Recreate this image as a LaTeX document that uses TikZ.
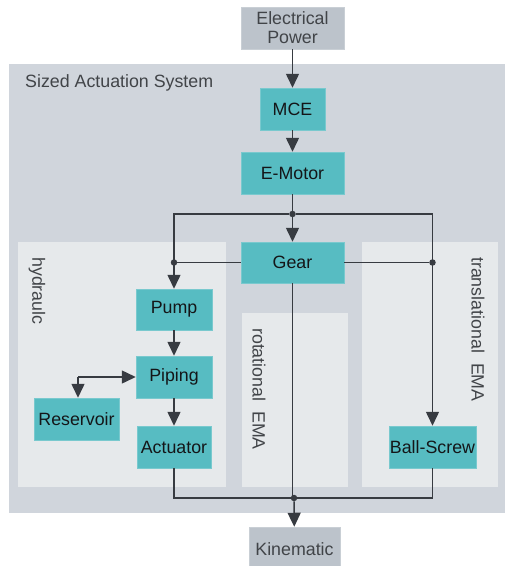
\documentclass[tikz,border=0pt]{standalone}
\usepackage{fontspec}
\setmainfont{Liberation Sans}
\usetikzlibrary{arrows.meta}
\definecolor{teal1}{RGB}{87,188,194}
\definecolor{biggray}{RGB}{208,213,220}
\definecolor{panel}{RGB}{230,233,235}
\definecolor{iobox}{RGB}{188,195,203}
\definecolor{linec}{RGB}{55,59,65}
\definecolor{txt}{RGB}{20,22,24}
\definecolor{lbl}{RGB}{65,68,72}
\begin{document}
\begin{tikzpicture}[x=1pt,y=-1pt,
  every node/.style={font=\fontsize{17.8}{20}\selectfont},
  blk/.style={fill=teal1,draw=teal1!80!white,line width=0.5pt,text=txt,inner sep=0pt},
  io/.style={fill=iobox,draw=iobox!80!white,line width=0.5pt,text=lbl,inner sep=0pt,align=center},
  conn/.style={draw=linec,line width=1.5pt},
  arr/.style={conn,-{Triangle[length=14pt,width=13pt]}},
  dot/.style={circle,fill=linec,inner sep=0pt,minimum size=6.5pt},
  grouplbl/.style={text=lbl,rotate=-90,anchor=west,inner sep=0pt}]
\useasboundingbox (0,0) rectangle (505,566);
\clip (0,0) rectangle (505,566);
% backgrounds
\fill[biggray] (9,64) rectangle (505,513);
\fill[panel] (18,242) rectangle (226,487);
\fill[panel] (242,313) rectangle (348,487);
\fill[panel] (362,242) rectangle (498,487);
\node[text=lbl,anchor=west,inner sep=0pt] (sas) at (25,83) {Sized Actuation System};
\node[grouplbl] (lh) at (37,257) {hydraulc};
\node[grouplbl] (lr) at (259,328) {rotational\ \ EMA};
\node[grouplbl] (lt) at (478,257) {translational\ \ EMA};
% nodes
\node[io,minimum width=103pt,minimum height=42pt] (ep) at (292.5,28) {Electrical\\[-1pt]Power};
\node[blk,minimum width=65pt,minimum height=42pt] (mce) at (292.5,109) {MCE};
\node[blk,minimum width=103pt,minimum height=42pt] (em) at (292.5,173) {E-Motor};
\node[blk,minimum width=103pt,minimum height=41pt] (gear) at (292.5,262.5) {Gear};
\node[blk,minimum width=76pt,minimum height=41pt] (pump) at (174,309.5) {Pump};
\node[blk,minimum width=76pt,minimum height=42pt] (pip) at (174,377) {Piping};
\node[blk,minimum width=85pt,minimum height=42pt] (res) at (76.5,419) {Reservoir};
\node[blk,minimum width=74pt,minimum height=42pt] (act) at (174,447) {Actuator};
\node[blk,minimum width=87pt,minimum height=42pt] (bs) at (432.5,447) {Ball-Screw};
\node[io,minimum width=91pt,minimum height=44pt] (kin) at (294.5,549) {Kinematic};
% junctions
\node[dot] (jt) at (292.5,214) {};
\node[dot] (jl) at (174,262.5) {};
\node[dot] (jr) at (432.5,262.5) {};
\node[dot] (jb) at (294,498) {};
\coordinate (rc) at (78,377);
% connectors
\draw[arr] (ep) -- (mce);
\draw[arr] (mce) -- (em);
\draw[conn] (em) -- (jt);
\draw[arr] (jt) -- (gear);
\draw[arr] (jt) -| (pump);
\draw[arr] (jt) -| (bs);
\draw[conn] (gear) -- (jl);
\draw[conn] (gear) -- (jr);
\draw[arr] (pump) -- (pip);
\draw[arr] (pip) -- (act);
\draw[arr] (rc) -- (pip);
\draw[arr] (rc) -- (res.north -| rc);
\draw[conn] (gear.south) -- (gear.south |- jb);
\draw[conn] (act) |- (jb);
\draw[conn] (bs) |- (jb);
\draw[arr] (jb) -- (kin);
\end{tikzpicture}
\end{document}
